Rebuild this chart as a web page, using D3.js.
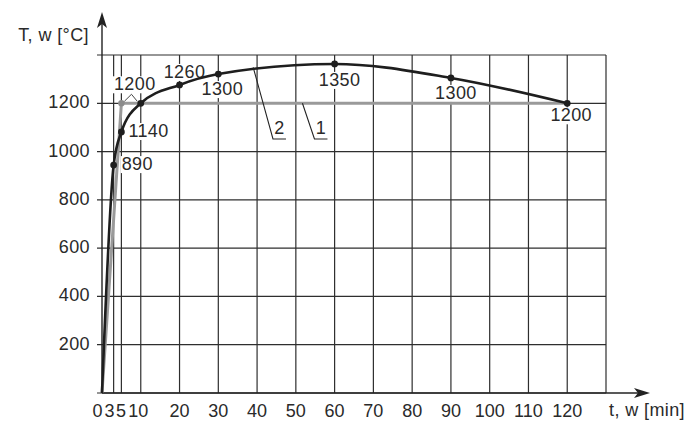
<!DOCTYPE html>
<html>
<head>
<meta charset="utf-8">
<script src="https://cdn.jsdelivr.net/npm/d3@7"></script>
<style>
	body { margin: 0; background: #fff; }
	svg { display: block; font-family: "Liberation Sans", Arial, sans-serif; }
	.tick-label, .note, .axis-title { font-size: 18px; fill: #2a2a2a; letter-spacing: 0.4px; }
	.grid line { stroke: #2e2e2e; stroke-width: 1.2; }
</style>
</head>
<body>
<svg id="chart" width="700" height="432"></svg>
<script>
// time ticks [min] and temperature ticks [°C]
var xTicks = [0, 3, 5, 10, 20, 30, 40, 50, 60, 70, 80, 90, 100, 110, 120];
var xGrid = [3, 5, 10, 20, 30, 40, 50, 60, 70, 80, 90, 100, 110, 120, 130];
var yTicks = [200, 400, 600, 800, 1000, 1200];
var yGrid = [0, 200, 400, 600, 800, 1000, 1200, 1400];

// curve 1 (grey) and curve 2 (black)
var curve1Time = [0, 5, 120];
var curve1Temp = [0, 1200, 1200];
var curve2Time = [0, 3, 5, 10, 20, 30, 60, 90, 120];
var curve2Temp = [0, 944, 1081, 1200, 1276, 1321, 1363, 1305, 1200];

// values written next to the marked points of curve 2
var noteText = ['', '890', '1140', '1200', '1260', '1300', '1350', '1300', '1200'];
// label offsets in px: [dx, dy, anchor]
var noteOffset = [null, [8, 5, 'start'], [7, 5, 'start'], [-6, -13, 'middle'], [5, -7, 'middle'],
	[4, 21, 'middle'], [5, 22, 'middle'], [5, 21, 'middle'], [4, 18, 'middle']];

var svg = d3.select('#chart');
var x = d3.scaleLinear().domain([0, 130]).range([102, 606]);
var y = d3.scaleLinear().domain([0, 1400]).range([393, 55]);

function pts(ts, vs) {
	return ts.map(function (t, i) { return [t, vs[i]]; });
}

// grid
var grid = svg.append('g').attr('class', 'grid');
grid.selectAll('line.h').data(yGrid).enter().append('line')
	.attr('class', 'h')
	.attr('x1', x(0) - 5).attr('x2', x(130))
	.attr('y1', function (d) { return y(d); }).attr('y2', function (d) { return y(d); });
grid.selectAll('line.v').data(xGrid).enter().append('line')
	.attr('class', 'v')
	.attr('y1', y(0)).attr('y2', y(1400))
	.attr('x1', function (d) { return x(d); }).attr('x2', function (d) { return x(d); });

// note backgrounds (labels knock the grid out)
var notes = svg.append('g');
var c2 = pts(curve2Time, curve2Temp);
c2.forEach(function (p, i) {
	if (!noteText[i]) return;
	var o = noteOffset[i];
	var t = notes.append('text')
		.attr('class', 'note')
		.attr('x', x(p[0]) + o[0])
		.attr('y', y(p[1]) + o[1])
		.attr('text-anchor', o[2])
		.text(noteText[i]);
	var b = t.node().getBBox();
	notes.insert('rect', 'text')
		.attr('x', b.x - 1).attr('y', b.y + 2)
		.attr('width', b.width + 2).attr('height', b.height - 3)
		.attr('fill', '#fff');
});

// axes
var axis = svg.append('g').attr('stroke', '#222').attr('stroke-width', 1.4);
axis.append('line').attr('x1', x(0)).attr('x2', 640).attr('y1', y(0)).attr('y2', y(0));
axis.append('line').attr('x1', x(0)).attr('x2', x(0)).attr('y1', y(0)).attr('y2', 22);
svg.append('path').attr('d', 'M650,' + y(0) + 'L634,' + (y(0) - 5) + 'L638,' + y(0) + 'L634,' + (y(0) + 5) + 'Z').attr('fill', '#222');
svg.append('path').attr('d', 'M' + x(0) + ',12L' + (x(0) - 5) + ',28L' + x(0) + ',24L' + (x(0) + 5) + ',28Z').attr('fill', '#222');

// tick labels (the crowded 0, 3, 5, 10 are nudged left like in the print)
var nudge = { 0: -4.5, 3: -4, 5: -0.5, 10: -2.5 };
svg.selectAll('text.xt').data(xTicks).enter().append('text')
	.attr('class', 'tick-label xt')
	.attr('x', function (d) { return x(d) + (nudge[d] || 0); })
	.attr('y', 417)
	.attr('text-anchor', 'middle')
	.style('letter-spacing', '0px')
	.text(function (d) { return d; });
svg.selectAll('text.yt').data(yTicks).enter().append('text')
	.attr('class', 'tick-label yt')
	.attr('x', 90)
	.attr('y', function (d) { return y(d) + 5; })
	.attr('text-anchor', 'end')
	.text(function (d) { return d; });

svg.append('text').attr('class', 'axis-title').attr('x', 89).attr('y', 41).attr('text-anchor', 'end').text('T, w [°C]');
svg.append('text').attr('class', 'axis-title').attr('x', 685).attr('y', 416).attr('text-anchor', 'end').text('t, w [min]');

// curves
var line = d3.line()
	.x(function (d) { return x(d[0]); })
	.y(function (d) { return y(d[1]); });

svg.append('path')
	.datum(pts(curve1Time, curve1Temp))
	.attr('d', line)
	.attr('fill', 'none')
	.attr('stroke', '#9a9a9a')
	.attr('stroke-width', 3);

svg.append('path')
	.datum(c2)
	.attr('d', line.curve(d3.curveMonotoneX))
	.attr('fill', 'none')
	.attr('stroke', '#1e1e1e')
	.attr('stroke-width', 2.6);

svg.append('circle').attr('cx', x(5)).attr('cy', y(1200)).attr('r', 3.2).attr('fill', '#8c8c8c');
svg.selectAll('circle.pt').data(c2.slice(1)).enter().append('circle')
	.attr('class', 'pt')
	.attr('cx', function (d) { return x(d[0]); })
	.attr('cy', function (d) { return y(d[1]); })
	.attr('r', 3.4)
	.attr('fill', '#1e1e1e');

// small caret joining the two 1200 points
svg.append('path')
	.attr('d', 'M' + (x(5) + 3) + ',' + (y(1200) - 2) + 'L' + (x(7.6)) + ',' + (y(1200) - 9) + 'L' + (x(9.1)) + ',' + (y(1200) - 2))
	.attr('fill', 'none').attr('stroke', '#444').attr('stroke-width', 1);

// curve leaders "2" and "1"
function leader(name, t0, v0, t1, v1) {
	var g = svg.append('g');
	g.append('path')
		.attr('d', 'M' + x(t0) + ',' + y(v0) + 'L' + x(t1) + ',' + y(v1) + 'L' + (x(t1) + 13) + ',' + y(v1))
		.attr('fill', 'none').attr('stroke', '#222').attr('stroke-width', 1.1);
	g.append('text').attr('class', 'note')
		.attr('x', x(t1) + 6.5).attr('y', y(v1) - 5)
		.attr('text-anchor', 'middle')
		.text(name);
}
leader('2', 39, 1349, 44.1, 1052);
leader('1', 51.7, 1200, 54.8, 1052);
</script>
</body>
</html>
